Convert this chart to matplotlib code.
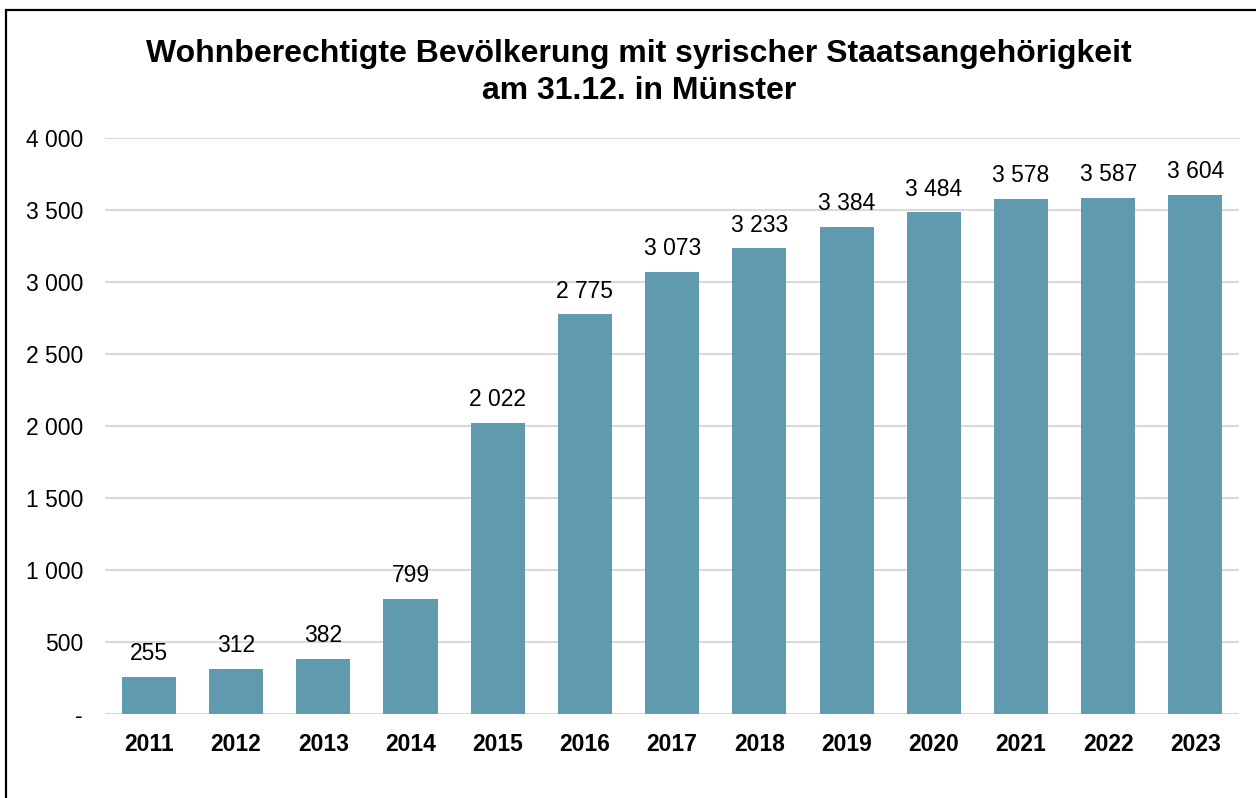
import numpy as np
import matplotlib.pyplot as plt
from matplotlib.patches import Rectangle

plt.rcParams['font.family'] = ['Liberation Sans', 'DejaVu Sans']

years = ['2011', '2012', '2013', '2014', '2015', '2016', '2017',
         '2018', '2019', '2020', '2021', '2022', '2023']
residents = [255, 312, 382, 799, 2022, 2775, 3073, 3233, 3384, 3484, 3578, 3587, 3604]
y_ticks = [0, 500, 1000, 1500, 2000, 2500, 3000, 3500, 4000]


def fmt(v):
    # thousands separated by a space, zero shown as a dash
    if v == 0:
        return '-'
    return f'{v:,}'.replace(',', ' ')


fig = plt.figure(figsize=(12.56, 7.98), dpi=100)
ax = fig.add_axes([0.0838, 0.1053, 0.9027, 0.7217])

x = np.arange(len(years))
bars = ax.bar(x, residents, width=0.62, color='#5f9aaf', zorder=3)

for b, v in zip(bars, residents):
    ax.annotate(fmt(v), (b.get_x() + b.get_width() / 2, v),
                xytext=(0, 8.5), textcoords='offset points',
                ha='center', va='bottom', fontsize=16.5)

ax.set_xlim(-0.5, len(years) - 0.5)
ax.set_ylim(0, 4000)
ax.set_yticks(y_ticks)
ax.set_yticklabels([fmt(t) for t in y_ticks], fontsize=16.5)
ax.set_xticks(x)
ax.set_xticklabels(years, fontsize=16.5, fontweight='bold')
ax.tick_params(axis='y', length=0, pad=16)
ax.tick_params(axis='x', length=0, pad=14)
ax.grid(axis='y', color='#d9d9d9', linewidth=1.5, zorder=0)
for s in ax.spines.values():
    s.set_visible(False)

fig.text(0.509, 0.9095, 'Wohnberechtigte Bevölkerung mit syrischer Staatsangehörigkeit\nam 31.12. in Münster',
         ha='center', va='center', fontsize=23, fontweight='bold', linespacing=1.32)

# chart frame, partly outside the picture on the right and bottom
fig.patches.append(Rectangle((6 / 1256, -0.05), 1.1, 1 - 10 / 798 + 0.05,
                             transform=fig.transFigure, fill=False,
                             edgecolor='black', linewidth=1.6))

fig.savefig('out.png', dpi=100)
